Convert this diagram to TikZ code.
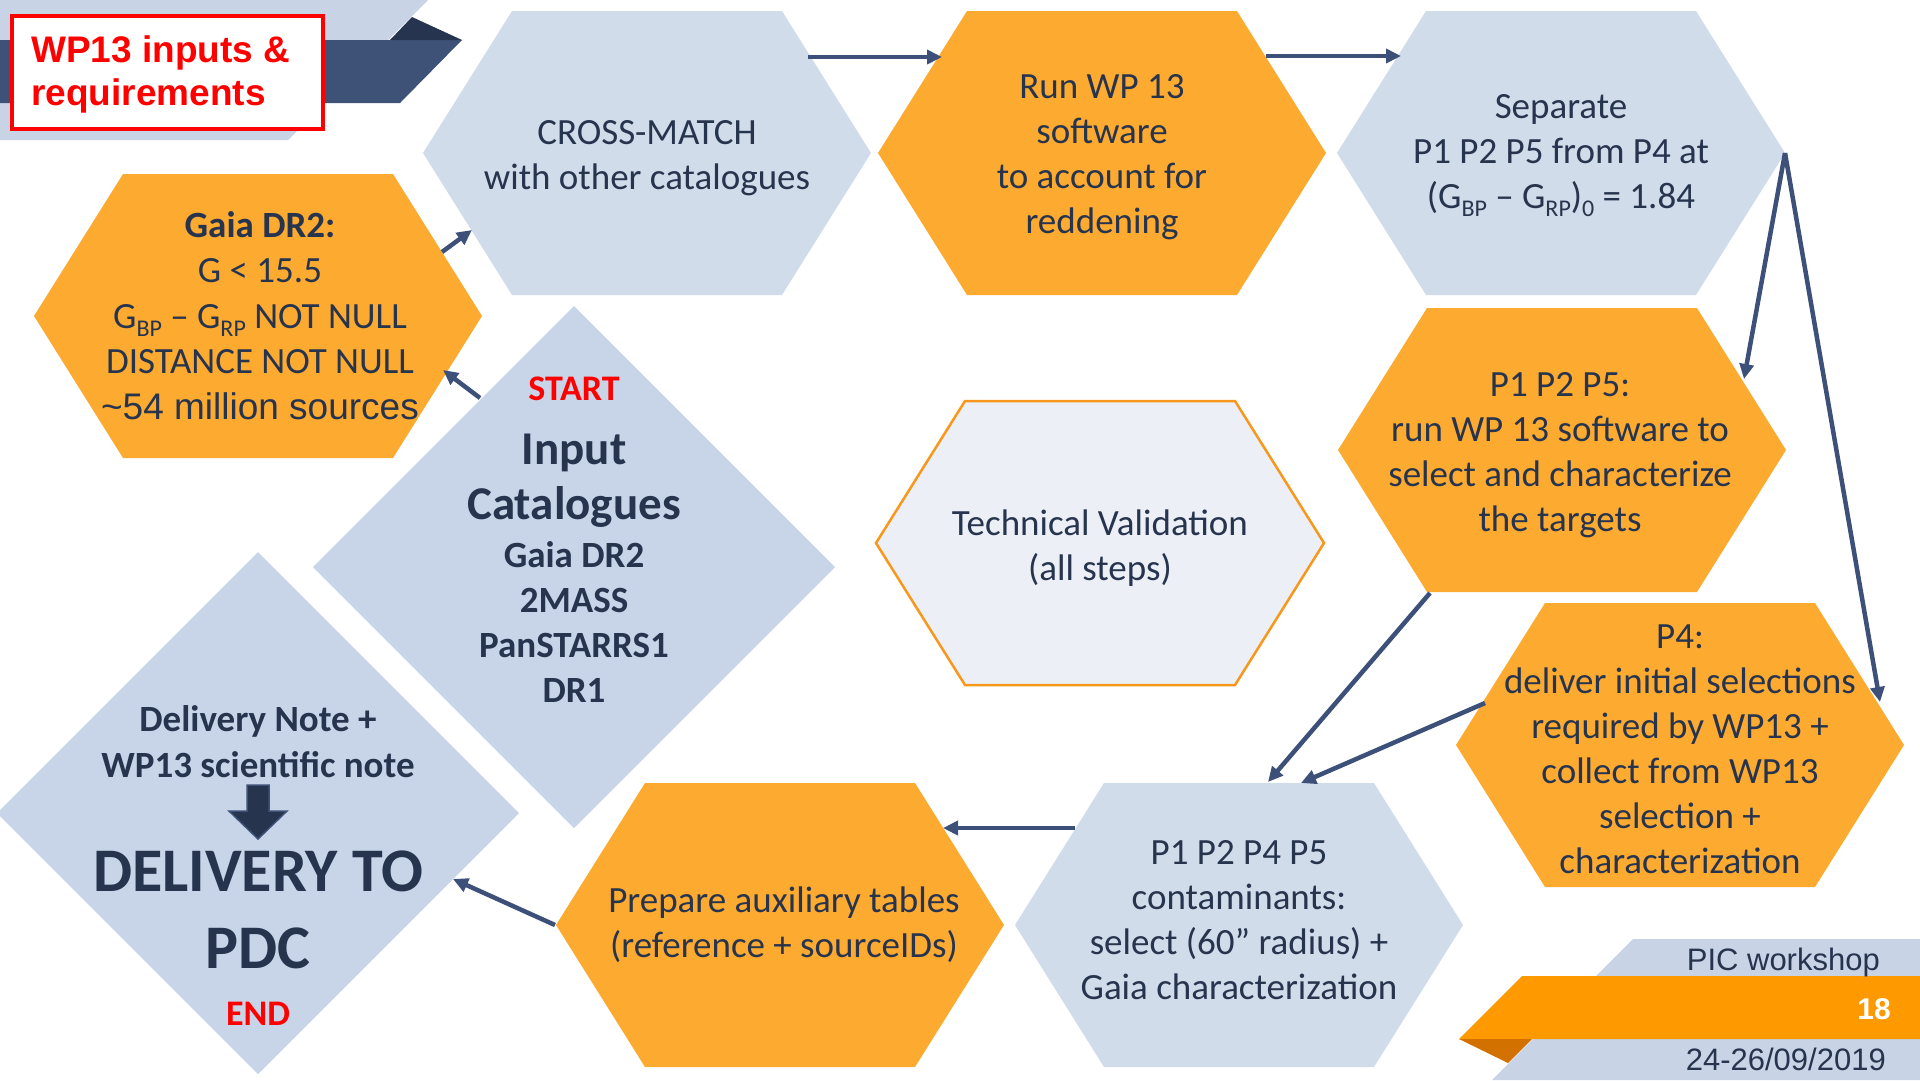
\documentclass[tikz,border=0pt]{standalone}
\usepackage{fontspec}
\setmainfont{Carlito}
\newfontfamily\arialf{Liberation Sans}
\usetikzlibrary{arrows.meta}
\definecolor{ink}{HTML}{26344E}
\definecolor{arrowc}{HTML}{3D5079}
\definecolor{hexorange}{HTML}{FDAA31}
\definecolor{hexblue}{HTML}{D1DCEA}
\definecolor{diablue}{HTML}{C8D4E7}
\definecolor{techfill}{HTML}{ECF0F6}
\definecolor{techline}{HTML}{F7981D}
\definecolor{bandblue}{HTML}{C8D4E6}
\definecolor{banddark}{HTML}{3E5278}
\definecolor{folddark}{HTML}{263450}
\definecolor{footorange}{HTML}{FF9900}
\definecolor{footfold}{HTML}{D27000}
\definecolor{redt}{HTML}{FF0000}
\newcommand\ml[1]{\begin{tabular}[t]{@{}c@{}}#1\end{tabular}}
\newcommand\sbs[1]{\raisebox{-8pt}{\fontsize{24}{24}\selectfont #1}}
\newcommand\hexat[4]{%
  \path[#4] (#2-224,#3) -- (#2-135,#3-142) -- (#2+135,#3-142) -- (#2+224,#3)
    -- (#2+135,#3+142) -- (#2-135,#3+142) -- cycle;
  \coordinate (#1) at (#2,#3);}
\newcommand\diaat[4]{%
  \path[#4] (#2-261,#3) -- (#2,#3-261) -- (#2+261,#3) -- (#2,#3+261) -- cycle;
  \coordinate (#1) at (#2,#3);}
\tikzset{
  hexB/.style={fill=hexblue},
  hexO/.style={fill=hexorange},
  hexT/.style={fill=techfill, draw=techline, line width=2.5pt},
  diaB/.style={fill=diablue},
  txt/.style={anchor=base, inner sep=0pt, text=ink, font=\fontsize{37}{45}\selectfont},
  flow/.style={draw=arrowc, line width=4.5pt, -{Triangle[length=15pt,width=14pt]}},
  foot/.style={anchor=base east, inner sep=0pt, font=\arialf\fontsize{31}{31}\selectfont, text=ink},
}
\begin{document}
\begin{tikzpicture}[x=1pt,y=-1pt]
\useasboundingbox (0,0) rectangle (1920,1080);
\fill[white] (0,0) rectangle (1920,1080);

% header band
\fill[bandblue] (0,0) -- (428,0) -- (288,140) -- (0,140) -- cycle;
\fill[banddark] (0,40) -- (462,40) -- (400,103) -- (0,103) -- cycle;
\fill[folddark] (390,40) -- (412,17) -- (462,40) -- cycle;
\node[draw=redt, fill=white, line width=3.5pt, minimum width=311pt, minimum height=113pt,
      inner sep=0pt, anchor=north west] (title) at (10,14) {};
\node[anchor=base west, inner sep=0pt, text=redt, font=\arialf\bfseries\fontsize{37}{43}\selectfont,
      align=left] (titletxt) at (31,62) {\begin{tabular}[t]{@{}l@{}}WP13 inputs \&\\requirements\end{tabular}};

% footer
\fill[bandblue] (1633,939) -- (1920,939) -- (1920,1080) -- (1492,1080) -- cycle;
\fill[footorange] (1522,976) -- (1920,976) -- (1920,1039) -- (1459,1039) -- cycle;
\fill[footfold] (1459,1039) -- (1532,1039) -- (1508,1063) -- cycle;
\node[foot] (pic) at (1880,970) {PIC workshop};
\node[foot, text=white, font=\arialf\bfseries\fontsize{30}{30}\selectfont] (page) at (1891,1019) {18};
\node[foot] (date) at (1886,1070) {24-26/09/2019};

% shapes
\hexat{cross}{647}{153}{hexB}
\hexat{run}{1102}{153}{hexO}
\hexat{sep}{1561}{153}{hexB}
\hexat{gaia}{258}{316}{hexO}
\hexat{tech}{1100}{543}{hexT}
\hexat{ptwo}{1562}{450}{hexO}
\hexat{pfour}{1680}{745}{hexO}
\hexat{cont}{1239}{925}{hexB}
\hexat{prep}{780}{925}{hexO}
\diaat{input}{574}{567}{diaB}
\diaat{deliv}{258}{813}{diaB}

% texts
\node[txt] (crosst) at (647,144) {\ml{CROSS-MATCH\\with other catalogues}};
\node[txt] (runt) at (1102,98) {\ml{Run WP 13\\software\\to account for\\reddening}};
\node[txt] (sept) at (1561,118) {\ml{Separate\\P1 P2 P5 from P4 at\\(G\sbs{BP} – G\sbs{RP})\sbs{0} = 1.84}};
\node[txt, font=\fontsize{37}{45.5}\selectfont] (gaiat) at (260,237) {\ml{\textbf{Gaia DR2:}\\G < 15.5\\G\sbs{BP} – G\sbs{RP} NOT NULL\\DISTANCE NOT NULL\\{\arialf\fontsize{37}{45.5}\selectfont\textasciitilde 54 million sources}}};
\node[txt] (techt) at (1100,535) {\ml{Technical Validation\\(all steps)}};
\node[txt] (ptwot) at (1560,396) {\ml{P1 P2 P5:\\run WP 13 software to\\select and characterize\\the targets}};
\node[txt] (pfourt) at (1680,648) {\ml{P4:\\deliver initial selections\\required by WP13 +\\collect from WP13\\selection +\\characterization}};
\node[txt] (contt) at (1239,864) {\ml{P1 P2 P4 P5\\contaminants:\\select (60” radius) +\\Gaia characterization}};
\node[txt] (prept) at (784,912) {\ml{Prepare auxiliary tables\\(reference + sourceIDs)}};

\node[txt, text=redt, font=\bfseries\fontsize{36}{36}\selectfont] (start) at (574,400) {START};
\node[txt, font=\bfseries\fontsize{47}{55}\selectfont] (inputt) at (574,464) {\ml{Input\\Catalogues}};
\node[txt, font=\bfseries\fontsize{37}{45.3}\selectfont] (catt) at (574,567) {\ml{Gaia DR2\\2MASS\\PanSTARRS1\\DR1}};

\node[txt, font=\bfseries\fontsize{37}{46}\selectfont] (notet) at (258,731) {\ml{Delivery Note +\\WP13 scientific note}};
\fill[ink, draw=banddark, line width=1.5pt] (247,785) -- (269,785) -- (269,811) -- (287,811)
   -- (258,839) -- (229,811) -- (247,811) -- cycle;
\node[txt, font=\bfseries\fontsize{62}{77}\selectfont] (delt) at (258,891) {\ml{DELIVERY TO\\PDC}};
\node[txt, text=redt, font=\bfseries\fontsize{36}{36}\selectfont] (endt) at (258,1025) {END};

% connector end points
\coordinate (inA) at (480,398);   \coordinate (gaiaA) at (443,370);
\coordinate (gaiaB) at (442,252); \coordinate (crossA) at (472,230);
\coordinate (crossB) at (808,57); \coordinate (runA) at (942,57);
\coordinate (runB) at (1266,56);  \coordinate (sepA) at (1401,56);
\coordinate (sepB) at (1785,153);
\coordinate (ptwoA) at (1744,379); \coordinate (pfourA) at (1880,702);
\coordinate (ptwoB) at (1430,593); \coordinate (contA) at (1268,782);
\coordinate (pfourB) at (1485,703); \coordinate (contB) at (1301,783);
\coordinate (contC) at (1075,828); \coordinate (prepA) at (943,828);
\coordinate (prepB) at (555,925);  \coordinate (delA) at (453,879);

\draw[flow] (inA) -- (gaiaA);
\draw[flow] (gaiaB) -- (crossA);
\draw[flow] (crossB) -- (runA);
\draw[flow] (runB) -- (sepA);
\draw[flow] (sepB) -- (ptwoA);
\draw[flow] (sepB) -- (pfourA);
\draw[flow] (ptwoB) -- (contA);
\draw[flow] (pfourB) -- (contB);
\draw[flow] (contC) -- (prepA);
\draw[flow] (prepB) -- (delA);
\end{tikzpicture}
\end{document}
